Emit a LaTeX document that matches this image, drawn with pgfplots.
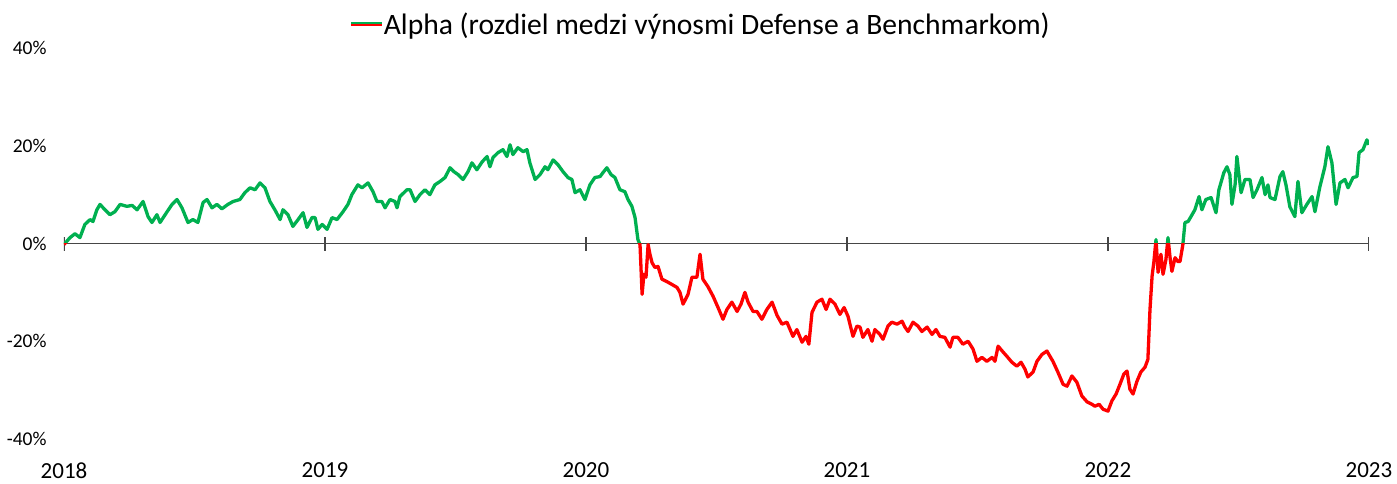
\documentclass[border=0pt]{standalone}
\usepackage{pgfplots}
\usepackage{pgfplotstable}
\pgfplotsset{compat=1.18}
\usepackage{fontspec}
\setmainfont{Carlito}
\definecolor{xlgreen}{RGB}{0,176,80}
\definecolor{xlred}{RGB}{255,0,0}
\definecolor{axgray}{RGB}{70,70,70}

\pgfplotstableread{
x y
2018.000 -0.2
2018.023 1.2
2018.042 2.0
2018.061 1.2
2018.080 3.9
2018.100 4.9
2018.111 4.5
2018.126 6.9
2018.138 8.0
2018.157 6.9
2018.176 5.9
2018.195 6.5
2018.215 8.0
2018.241 7.6
2018.261 7.8
2018.280 6.9
2018.303 8.6
2018.322 5.5
2018.337 4.3
2018.356 5.9
2018.368 4.3
2018.395 6.5
2018.414 8.0
2018.433 9.0
2018.452 7.3
2018.475 4.3
2018.494 4.9
2018.513 4.3
2018.533 8.4
2018.548 9.0
2018.567 7.3
2018.586 8.0
2018.605 7.1
2018.628 8.0
2018.648 8.6
2018.674 9.0
2018.693 10.4
2018.713 11.4
2018.732 11.0
2018.751 12.4
2018.770 11.4
2018.789 8.6
2018.808 6.9
2018.828 4.9
2018.839 6.9
2018.858 5.9
2018.877 3.5
2018.897 4.9
2018.916 6.3
2018.931 3.3
2018.950 5.3
2018.962 5.3
2018.973 2.9
2018.989 3.9
2019.008 2.9
2019.027 5.3
2019.046 4.9
2019.069 6.5
2019.088 8.0
2019.103 10.0
2019.126 12.0
2019.142 11.4
2019.165 12.4
2019.184 10.6
2019.199 8.6
2019.218 8.6
2019.230 7.3
2019.249 9.0
2019.268 8.6
2019.276 7.3
2019.287 9.6
2019.314 11.0
2019.326 11.0
2019.345 8.6
2019.364 10.0
2019.383 11.0
2019.402 10.0
2019.421 12.0
2019.441 12.7
2019.460 13.5
2019.479 15.5
2019.494 14.7
2019.510 14.1
2019.529 13.1
2019.548 14.7
2019.563 16.5
2019.582 15.1
2019.602 16.7
2019.621 17.8
2019.632 15.7
2019.644 17.6
2019.663 18.6
2019.682 19.2
2019.697 17.8
2019.709 20.2
2019.720 18.2
2019.739 19.6
2019.759 18.8
2019.774 19.2
2019.785 16.5
2019.805 13.1
2019.824 14.1
2019.843 15.7
2019.854 15.1
2019.874 17.1
2019.893 16.1
2019.912 14.7
2019.931 13.5
2019.946 13.1
2019.958 10.4
2019.977 11.0
2019.996 9.0
2020.015 12.0
2020.034 13.5
2020.054 13.7
2020.065 14.5
2020.080 15.5
2020.096 14.1
2020.111 13.5
2020.130 11.0
2020.149 10.6
2020.161 9.0
2020.176 7.6
2020.188 5.3
2020.199 0.8
2020.207 -0.2
2020.215 -10.4
2020.222 -6.3
2020.230 -6.9
2020.238 -0.2
2020.245 -2.2
2020.253 -3.9
2020.264 -4.9
2020.276 -4.7
2020.291 -7.3
2020.310 -7.8
2020.330 -8.4
2020.349 -9.0
2020.360 -10.0
2020.372 -12.4
2020.391 -10.4
2020.406 -6.9
2020.425 -6.9
2020.437 -2.2
2020.448 -7.3
2020.467 -8.8
2020.487 -10.8
2020.506 -13.1
2020.525 -15.5
2020.540 -13.5
2020.559 -12.0
2020.579 -13.9
2020.594 -12.4
2020.609 -10.0
2020.621 -12.0
2020.640 -13.9
2020.655 -13.9
2020.674 -15.5
2020.693 -13.5
2020.713 -12.0
2020.732 -14.7
2020.751 -16.5
2020.770 -16.1
2020.782 -17.6
2020.793 -19.0
2020.808 -17.6
2020.828 -20.2
2020.843 -19.0
2020.854 -20.6
2020.866 -14.1
2020.885 -12.0
2020.904 -11.4
2020.920 -13.5
2020.935 -11.4
2020.954 -12.4
2020.973 -14.5
2020.989 -13.1
2021.004 -14.9
2021.023 -19.0
2021.038 -16.9
2021.050 -17.1
2021.061 -19.2
2021.080 -17.6
2021.096 -20.0
2021.107 -17.6
2021.126 -18.6
2021.138 -19.6
2021.157 -16.9
2021.172 -16.1
2021.192 -16.5
2021.211 -15.9
2021.222 -17.1
2021.234 -18.0
2021.253 -16.1
2021.272 -16.9
2021.287 -18.0
2021.307 -17.1
2021.326 -18.6
2021.341 -17.6
2021.356 -19.0
2021.375 -19.2
2021.395 -21.2
2021.406 -19.2
2021.425 -19.2
2021.444 -20.6
2021.464 -20.0
2021.483 -21.6
2021.498 -24.1
2021.517 -23.3
2021.536 -24.1
2021.556 -23.3
2021.567 -24.1
2021.579 -21.0
2021.598 -22.2
2021.613 -23.1
2021.632 -24.3
2021.651 -25.1
2021.667 -24.3
2021.682 -25.7
2021.693 -27.3
2021.713 -26.3
2021.728 -24.1
2021.747 -22.7
2021.766 -22.0
2021.778 -23.1
2021.789 -24.1
2021.808 -26.3
2021.828 -28.8
2021.843 -29.2
2021.862 -27.1
2021.881 -28.4
2021.900 -31.2
2021.920 -32.4
2021.939 -32.9
2021.950 -33.3
2021.966 -32.9
2021.981 -33.9
2022.000 -34.3
2022.015 -32.2
2022.031 -30.8
2022.046 -28.8
2022.061 -26.7
2022.073 -26.1
2022.084 -29.8
2022.096 -30.8
2022.111 -28.2
2022.126 -26.3
2022.142 -25.3
2022.153 -23.7
2022.161 -13.5
2022.169 -6.7
2022.176 -3.7
2022.184 0.8
2022.192 -5.9
2022.203 -2.2
2022.211 -6.3
2022.222 -3.3
2022.230 1.2
2022.238 -2.9
2022.245 -5.7
2022.257 -2.9
2022.268 -3.7
2022.276 -3.7
2022.287 -0.2
2022.295 4.3
2022.307 4.5
2022.318 5.5
2022.333 6.9
2022.349 9.6
2022.360 6.9
2022.375 9.0
2022.395 9.4
2022.414 6.3
2022.425 11.0
2022.444 14.5
2022.456 15.7
2022.467 14.1
2022.475 8.0
2022.487 12.0
2022.494 17.8
2022.510 10.4
2022.525 13.1
2022.544 13.1
2022.556 9.4
2022.571 11.0
2022.590 13.5
2022.602 10.0
2022.613 12.0
2022.621 9.4
2022.640 9.0
2022.659 13.7
2022.670 14.7
2022.682 12.0
2022.697 7.5
2022.716 5.5
2022.728 12.7
2022.743 6.3
2022.762 8.0
2022.782 9.6
2022.793 6.5
2022.812 11.6
2022.831 15.7
2022.843 19.8
2022.858 16.5
2022.874 8.0
2022.889 12.4
2022.908 13.1
2022.920 11.4
2022.939 13.5
2022.954 13.7
2022.962 18.6
2022.977 19.2
2022.992 21.2
2023.000 20.2
}\alphadata

\begin{document}
\begin{tikzpicture}
\begin{axis}[
  at={(0pt,0pt)}, anchor=south west,
  scale only axis, width=1305pt, height=391pt,
  xmin=2018, xmax=2023, ymin=-40, ymax=40,
  axis line style={draw=none},
  tick style={draw=none},
  ytick={-40,-20,0,20,40},
  yticklabels={-40\%,-20\%,0\%,20\%,40\%},
  yticklabel style={font=\fontsize{19.5}{19.5}\selectfont, xshift=-14pt},
  xtick={2018,2019,2020,2021,2022,2023},
  xticklabels={2018,2019,2020,2021,2022,2023},
  xticklabel style={font=\fontsize{23}{23}\selectfont, yshift=-20pt},
  clip=true,
  legend style={at={(0.2192,1.0614)}, anchor=west, draw=none, fill=none,
    font=\fontsize{29.6}{29.6}\selectfont, inner sep=0pt, nodes={inner sep=1pt}},
  legend cell align=left,
]
\addlegendimage{legend image code/.code={
  \draw[xlred, line width=1.6pt] (0pt,-0.8pt) -- (31pt,-0.8pt);
  \draw[xlgreen, line width=1.6pt] (0pt,0.8pt) -- (31pt,0.8pt);}}
\addlegendentry{Alpha (rozdiel medzi výnosmi Defense a Benchmarkom)}
\draw[axgray, line width=1.4pt] (axis cs:2018,0) -- (axis cs:2023,0);
\pgfplotsinvokeforeach{2018,2019,2020,2021,2022,2023}{
  \draw[axgray, line width=1.4pt] (axis cs:#1,0) ++(0pt,-7pt) -- ++(0pt,14pt);
}
\begin{scope}
\clip (axis cs:2017,0) rectangle (axis cs:2024,60);
\addplot[forget plot, xlgreen, line width=3.3pt, line join=round] table[x=x,y=y] {\alphadata};
\end{scope}
\begin{scope}
\clip (axis cs:2017,-60) rectangle (axis cs:2024,0);
\addplot[forget plot, xlred, line width=3.3pt, line join=round] table[x=x,y=y] {\alphadata};
\end{scope}
\end{axis}
\pgfresetboundingbox
\path[use as bounding box] (-64pt,-44pt) rectangle (1333pt,439pt);
\end{tikzpicture}
\end{document}
